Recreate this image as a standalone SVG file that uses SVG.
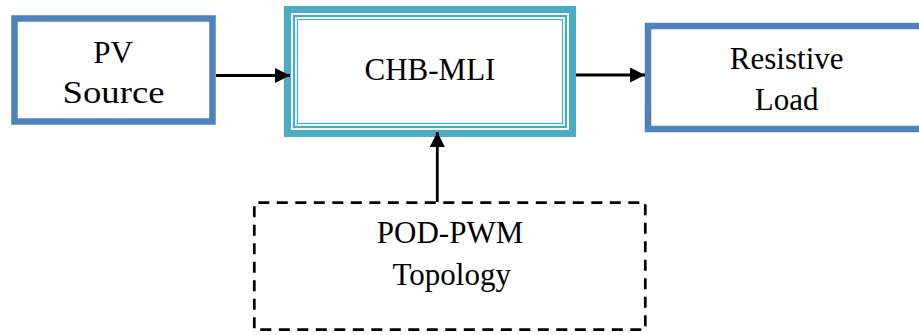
<svg xmlns="http://www.w3.org/2000/svg" width="919" height="335" viewBox="0 0 919 335">
<style>
.lbl{font-size:31px;fill:#000;text-anchor:middle}
.blue{fill:#fff;stroke:#4F81BD;stroke-width:6.5}
.teal{fill:none;stroke:#4BACC6}
.conn{stroke:#000;stroke-width:2.8;fill:none;marker-end:url(#ah)}
</style>
<defs>
<marker id="ah" markerUnits="userSpaceOnUse" markerWidth="16" markerHeight="16" refX="15" refY="7.5" orient="auto">
<path d="M0,0 L15,7.5 L0,15 z" fill="#000"/>
</marker>
</defs>
<rect width="919" height="335" fill="#fff"/>
<g id="pv-source" font-family="Liberation Serif, DejaVu Serif, serif">
<rect class="blue" x="14.5" y="18.5" width="198" height="103" stroke-width="7"/>
<text class="lbl" x="113" y="63">PV</text>
<text class="lbl" x="113.5" y="103" textLength="102" lengthAdjust="spacingAndGlyphs">Source</text>
</g>
<g id="chb-mli" font-family="Liberation Serif, DejaVu Serif, serif">
<rect x="287.5" y="9.5" width="285" height="124" fill="#fff" stroke="#4BACC6" stroke-width="7"/>
<rect class="teal" x="294" y="16" width="272" height="111" stroke-width="2.2"/>
<rect class="teal" x="297.5" y="19.5" width="265" height="104" stroke-width="1.2"/>
<text class="lbl" x="430" y="80">CHB-MLI</text>
</g>
<g id="resistive-load" font-family="Liberation Serif, DejaVu Serif, serif">
<rect class="blue" x="648" y="26" width="300" height="103"/>
<text class="lbl" x="786.7" y="69">Resistive</text>
<text class="lbl" x="786.7" y="110">Load</text>
</g>
<g id="pod-pwm" font-family="Liberation Serif, DejaVu Serif, serif">
<rect x="254.3" y="202.7" width="391" height="127" fill="#fff" stroke="#000" stroke-width="2.7" stroke-dasharray="11 7.5" stroke-dashoffset="14.5"/>
<text class="lbl" x="450" y="243">POD-PWM</text>
<text class="lbl" x="451.7" y="285">Topology</text>
</g>
<g id="connectors">
<line class="conn" x1="216" y1="75.5" x2="290" y2="75.5"/>
<line class="conn" x1="576" y1="75" x2="645" y2="75"/>
<line class="conn" x1="437.3" y1="202" x2="437.3" y2="132"/>
</g>
</svg>
